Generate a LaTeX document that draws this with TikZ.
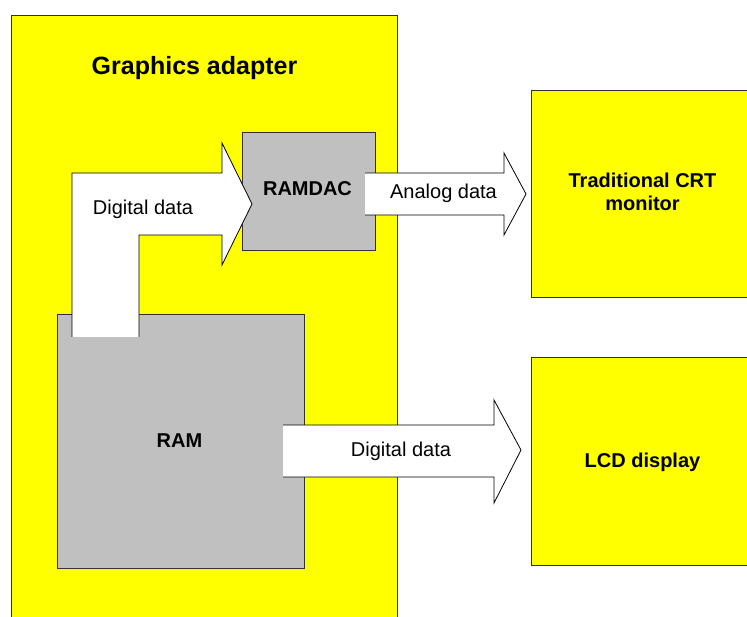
\documentclass[tikz,border=0pt]{standalone}
\usepackage{fontspec}
\setmainfont{Liberation Sans}
\usepackage{tikz}
\usetikzlibrary{positioning}

\definecolor{adapteryellow}{HTML}{FFFF00}
\definecolor{chipgray}{HTML}{C0C0C0}
\definecolor{edgegray}{HTML}{333333}

\begin{document}
\begin{tikzpicture}[x=1pt,y=-1pt,line width=1pt,
    panel/.style={draw=edgegray, fill=adapteryellow, rectangle, inner sep=0pt, anchor=north west},
    chip/.style={draw=edgegray, fill=chipgray, rectangle, inner sep=0pt, anchor=north west},
    txt/.style={inner sep=0pt, anchor=base, font=\fontsize{20}{23}\selectfont},
    boldtxt/.style={txt, font=\fontsize{20}{23}\selectfont\bfseries},
    fatarrow/.style={fill=white},
    fatedge/.style={draw=black, line width=0.8pt}]

    \useasboundingbox (0,0) rectangle (747,617);
    \fill[white] (0,0) rectangle (747,617);

    % Boxes
    \node [panel, minimum width=386pt, minimum height=640pt] (adapter) at (11,15) {};
    \node [chip, minimum width=133pt, minimum height=118pt] (ramdac) at (242,132) {};
    \node [chip, minimum width=247pt, minimum height=254pt] (ram) at (57,314) {};
    \node [panel, minimum width=240pt, minimum height=207pt] (crt) at (531,90) {};
    \node [panel, minimum width=240pt, minimum height=208pt] (lcd) at (531,357) {};

    % Block arrows
    \fill [fatarrow] (72,337) -- (72,173) -- (222,173) -- (222,143) -- (252,204)
        -- (222,265) -- (222,235) -- (139,235) -- (139,337) -- cycle;
    \draw [fatedge] (72,337) -- (72,173) -- (222,173) -- (222,143) -- (252,204)
        -- (222,265) -- (222,235) -- (139,235) -- (139,337);
    \fill [fatarrow] (365,173) -- (504,173) -- (504,153) -- (526,194)
        -- (504,235) -- (504,215) -- (365,215) -- cycle;
    \draw [fatedge] (365,173) -- (504,173) -- (504,153) -- (526,194)
        -- (504,235) -- (504,215) -- (365,215);
    \fill [fatarrow] (283,425) -- (494,425) -- (494,400) -- (521,450)
        -- (494,503) -- (494,477) -- (283,477) -- cycle;
    \draw [fatedge] (283,425) -- (494,425) -- (494,400) -- (521,450)
        -- (494,503) -- (494,477) -- (283,477);

    % Labels
    \node [boldtxt, font=\fontsize{25}{28}\selectfont\bfseries] (title) at (194.5,75) {Graphics adapter};
    \node [boldtxt] (ramdactext) at (307.5,196) {RAMDAC};
    \node [boldtxt] (ramtext) at (179.5,447) {RAM};
    \node [txt] (digitalin) at (143,215) {Digital data};
    \node [txt] (analogout) at (443.5,199) {Analog data};
    \node [txt] (digitalout) at (401,456) {Digital data};
    \node [boldtxt, anchor=center, align=center] (crttext) at (642.5,191.5) {Traditional CRT\\monitor};
    \node [boldtxt] (lcdtext) at (642.5,467) {LCD display};

\end{tikzpicture}
\end{document}
